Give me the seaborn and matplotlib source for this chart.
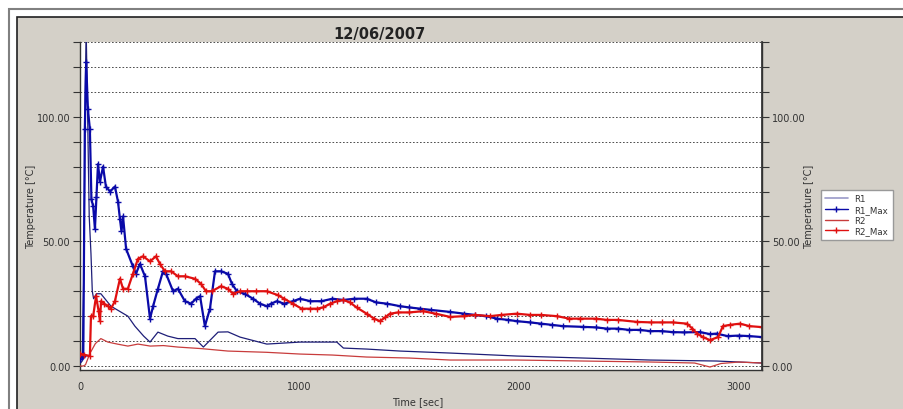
import matplotlib
matplotlib.use("Agg")
import matplotlib.pyplot as plt
import seaborn as sns
import pandas as pd
from matplotlib.patches import Rectangle
from matplotlib.lines import Line2D

# ---- data ----
r1_t = [0, 10, 18, 24, 28, 34, 42, 50, 56, 62, 75, 95, 141, 218, 250, 290, 319, 355, 400, 446,
        524, 562, 629, 674, 729, 851, 1002, 1170, 1200, 1306, 1458, 1686, 1990, 2293, 2597, 2900, 3107]
r1_T = [1, 2, 40, 110, 135, 105, 60, 45, 30, 27, 29, 29, 24, 20, 16, 12, 9.6, 13.6, 12, 11,
        11, 7.6, 13.6, 13.7, 11.6, 8.8, 9.6, 9.6, 7.2, 6.8, 6.0, 5.2, 4.0, 3.2, 2.4, 2.0, 1.2]

r1max_t = [0, 8, 15, 22, 28, 36, 45, 52, 60, 68, 75, 82, 91, 105, 118, 137, 159, 173, 182, 189,
           196, 210, 241, 255, 273, 296, 319, 333, 355, 378, 392, 424, 446, 478, 506, 528, 547, 569,
           592, 615, 642, 674, 692, 715, 750, 788, 820, 851, 870, 897, 930, 970, 1002, 1050, 1100,
           1150, 1200, 1250, 1306, 1350, 1400, 1458, 1500, 1550, 1600, 1686, 1750, 1800, 1850,
           1900, 1950, 1990, 2050, 2100, 2150, 2200, 2293, 2350, 2400, 2450, 2500, 2550, 2597,
           2650, 2700, 2750, 2825, 2870, 2900, 2950, 3000, 3050, 3107]
r1max_T = [3, 3.6, 4, 95, 122, 103, 95, 67, 64, 55, 68, 81, 74, 80, 72, 70, 72, 66, 59, 54,
           60, 47, 40, 37, 41, 36, 19, 24, 31, 38, 37, 30, 31, 26, 25, 27, 28, 16,
           23, 38, 38, 37, 33, 30, 29, 27, 25, 24, 25, 26, 25, 26, 27, 26, 26,
           27, 26.5, 27, 27, 25.5, 25, 24, 23.5, 23, 22.5, 21.7, 21, 20.5, 20,
           19, 18.5, 18, 17.5, 17, 16.5, 16, 15.7, 15.5, 15, 15, 14.5, 14.5, 14,
           14, 13.6, 13.5, 13.6, 12.8, 13, 12, 12.2, 12, 11.6]

r2_t = [0, 15, 25, 45, 70, 95, 127, 170, 218, 264, 320, 380, 446, 550, 674, 850, 1002, 1150, 1306,
        1500, 1686, 1990, 2293, 2600, 2800, 2870, 2920, 3000, 3107]
r2_T = [0, 0, 0.5, 5, 9, 11, 9.6, 8.8, 8, 8.8, 8, 8.2, 7.6, 7, 6, 5.5, 4.8, 4.4, 3.6,
        3.2, 2.4, 2.4, 2.0, 1.6, 1.2, -0.4, 1.0, 1.6, 1.2]

r2max_t = [0, 20, 45, 50, 60, 73, 85, 91, 96, 110, 128, 141, 159, 182, 196, 218, 241, 264, 287,
           319, 346, 364, 387, 415, 446, 478, 524, 551, 574, 600, 642, 674, 697, 730, 760, 800,
           851, 900, 930, 970, 1010, 1048, 1080, 1107, 1140, 1170, 1200, 1230, 1260, 1306, 1340,
           1367, 1390, 1412, 1450, 1500, 1563, 1620, 1686, 1750, 1800, 1868, 1920, 1990, 2050,
           2100, 2173, 2230, 2278, 2350, 2400, 2450, 2537, 2600, 2650, 2700, 2765, 2790, 2811,
           2840, 2870, 2907, 2929, 2960, 3007, 3050, 3107]
r2max_T = [5, 4.5, 4, 20, 20, 28, 22, 18, 26, 25, 24, 23, 26, 35, 31, 31, 37, 43, 44,
           42, 44, 41, 38, 38, 36, 36, 35, 33, 30, 30, 32, 31, 29, 30, 30, 30,
           30, 28.5, 27, 25, 23, 23, 23, 23.5, 25, 26, 26.5, 25.5, 23.5, 21, 19,
           18, 19.5, 21, 21.5, 21.5, 22, 21, 19.7, 20, 20.5, 20, 20.5, 21, 20.5,
           20.5, 20, 19, 19, 19, 18.5, 18.5, 17.7, 17.5, 17.5, 17.5, 17, 15, 13,
           11.5, 10.4, 11.6, 16, 16.5, 17, 16, 15.6]

series_names = ["R1", "R1_Max", "R2", "R2_Max"]
x_ticks = [0, 1000, 2000, 3000]
y_ticks = [0, 50, 100]
y_tick_labels = ["0.00", "50.00", "100.00"]
title_text = "12/06/2007"

frames = []
for name, t, T in [("R1", r1_t, r1_T), ("R1_Max", r1max_t, r1max_T),
                   ("R2", r2_t, r2_T), ("R2_Max", r2max_t, r2max_T)]:
    frames.append(pd.DataFrame({"time": t, "temp": T, "series": name}))
df = pd.concat(frames, ignore_index=True)

sns.set_theme(style="white")
plt.rcParams["font.family"] = ["DejaVu Sans"]

W, H = 904, 410
fig = plt.figure(figsize=(W / 100, H / 100), dpi=100, facecolor="white")

# window frame
def frect(x0, y0, x1, y1, **kw):
    fig.patches.append(Rectangle((x0 / W, 1 - y1 / H), (x1 - x0) / W, (y1 - y0) / H,
                                 transform=fig.transFigure, zorder=-10, **kw))

frect(8.5, 9.5, 920, 430, facecolor="white", edgecolor="#808080", linewidth=1.5)
frect(16.5, 17.5, 920, 430, facecolor="#d4d0c8", edgecolor="#202020", linewidth=1.2)

ax = fig.add_axes([80 / W, 1 - 371 / H, (762 - 80) / W, (371 - 43) / H])
ax.set_facecolor("white")

colors = {"R1": "#1e1e78", "R1_Max": "#0a0aa8", "R2": "#c83c3c", "R2_Max": "#e01010"}
styles = {"R1": dict(lw=0.9, marker=None), "R1_Max": dict(lw=1.6, marker="+"),
          "R2": dict(lw=0.9, marker=None), "R2_Max": dict(lw=1.6, marker="+")}

for name in series_names:
    sub = df[df["series"] == name]
    st = styles[name]
    sns.lineplot(data=sub, x="time", y="temp", ax=ax, color=colors[name], linewidth=st["lw"],
                 marker=st["marker"], markersize=4.5, markeredgewidth=1.0, markeredgecolor=colors[name],
                 estimator=None, sort=False, legend=False, zorder=3)

ax.set_xlim(0, 3107)
ax.set_ylim(-1.6, 130)

# gridlines every 10
for v in range(0, 131, 10):
    ax.axhline(v, color="#333333", linestyle=(0, (2, 2.2)), linewidth=0.6, zorder=1)

ax.set_xticks(x_ticks)
ax.set_xticks(range(0, 3107, 200), minor=True)
ax.set_yticks(y_ticks)
ax.set_yticklabels(y_tick_labels)
ax.set_yticks(range(0, 131, 10), minor=True)
ax.tick_params(axis="both", which="both", direction="out", colors="#333333",
               labelsize=7, labelcolor="#333333", length=5, width=0.8)
ax.tick_params(axis="x", which="both", length=4, pad=4)
ax.tick_params(axis="y", which="both", left=True, pad=2)
for s in ["left", "bottom", "right"]:
    ax.spines[s].set_visible(True)
    ax.spines[s].set_color("#333333")
    ax.spines[s].set_linewidth(1.0)
ax.spines["top"].set_visible(False)
ax.set_xlabel("Time [sec]", fontsize=7, color="#333333")
ax.xaxis.set_label_coords(0.495, -0.08)
ax.set_ylabel("Temperature [°C]", fontsize=7, color="#333333", labelpad=12)
ax.yaxis.set_label_coords(-0.064, 0.5)

ax2 = ax.twinx()
ax2.set_ylim(ax.get_ylim())
ax2.set_yticks(y_ticks)
ax2.set_yticklabels(y_tick_labels)
ax2.set_yticks(range(0, 131, 10), minor=True)
ax2.tick_params(axis="y", which="both", direction="out", colors="#333333",
                labelsize=7, labelcolor="#333333", length=5, width=0.8, pad=2)
for s in ["left", "bottom", "top"]:
    ax2.spines[s].set_visible(False)
ax2.spines["right"].set_color("#333333")
ax2.set_ylabel("Temperature [°C]", fontsize=7, color="#333333")
ax2.yaxis.set_label_coords(1.062, 0.5)
ax2.grid(False)

fig.text(379 / W, 1 - 35 / H, title_text, ha="center", va="center", fontsize=10.5,
         fontweight="bold", color="#222222")

handles = [
    Line2D([], [], color="#9a9ac8", lw=1.2),
    Line2D([], [], color=colors["R1_Max"], lw=1.0, marker="+", markersize=4),
    Line2D([], [], color=colors["R2"], lw=1.0),
    Line2D([], [], color=colors["R2_Max"], lw=1.0, marker="+", markersize=4),
]
leg = fig.legend(handles, series_names, loc="upper left",
                 bbox_to_anchor=(821 / W, 1 - 191 / H), fontsize=6.2, frameon=True,
                 fancybox=False, edgecolor="#999999", framealpha=1, handlelength=2.6,
                 labelspacing=0.2, borderpad=0.5, handletextpad=0.8, borderaxespad=0)
for txt in leg.get_texts():
    txt.set_color("#333333")

fig.savefig("out.png", dpi=100, facecolor=fig.get_facecolor())
